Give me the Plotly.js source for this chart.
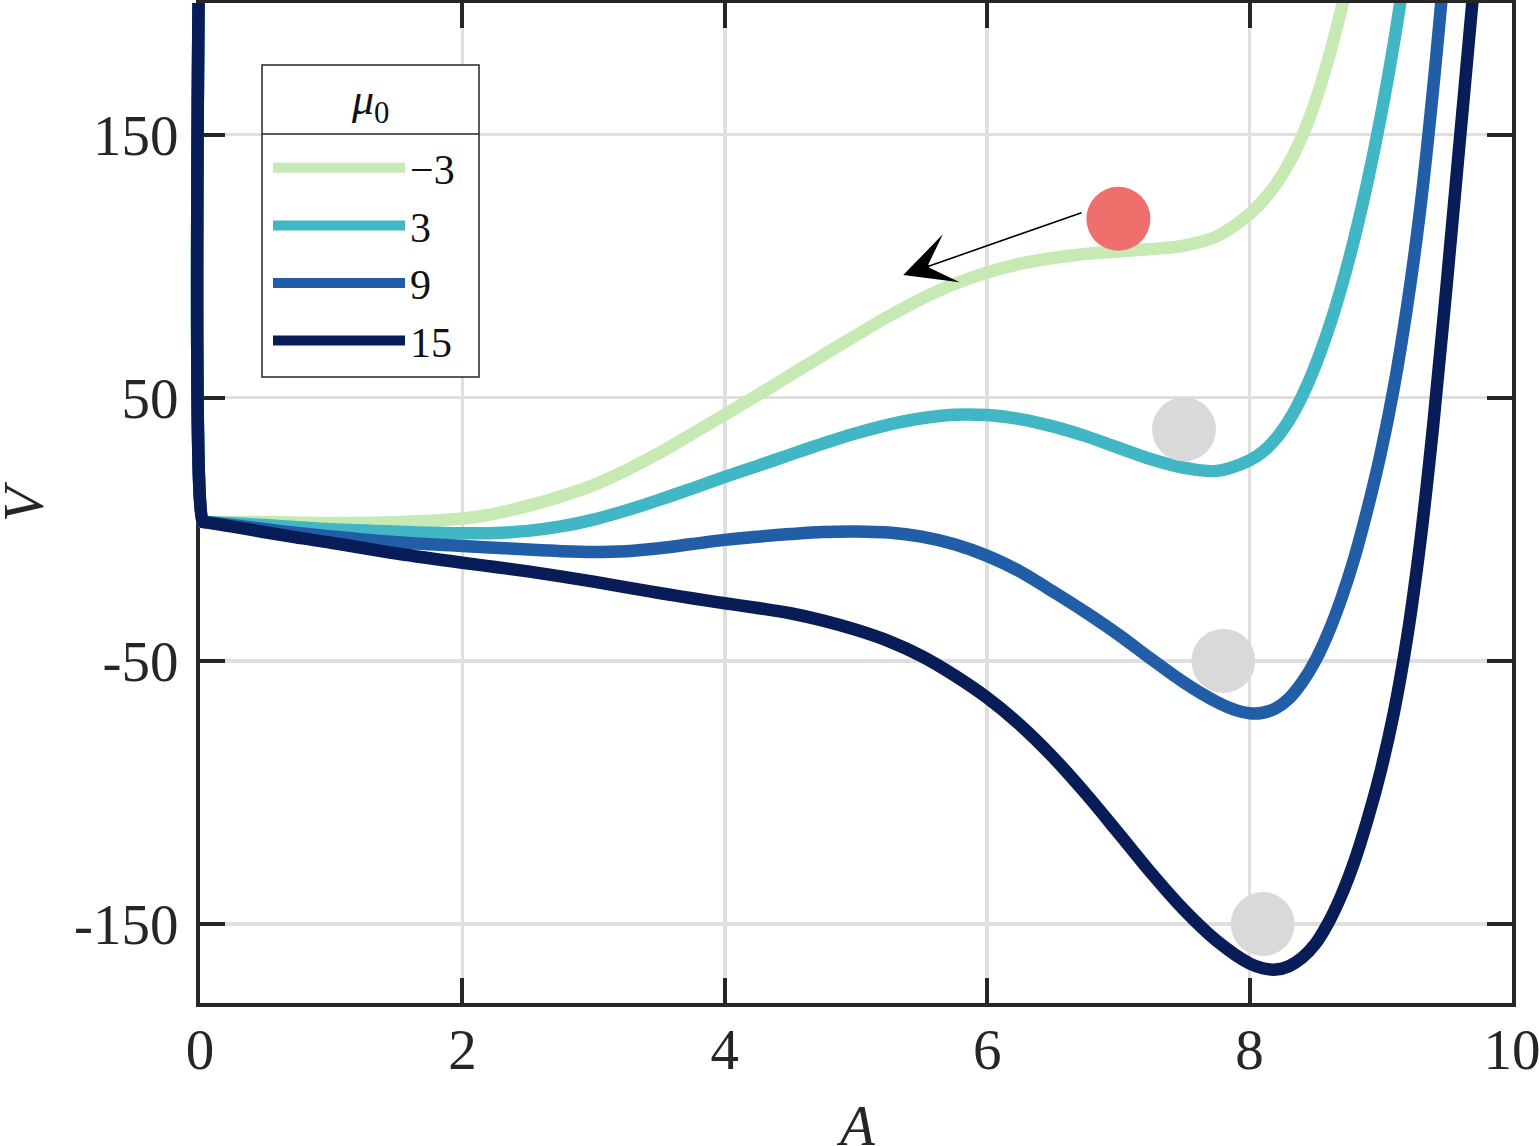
<!DOCTYPE html>
<html>
<head>
<meta charset="utf-8">
<script src="https://cdn.plot.ly/plotly-3.0.1.min.js"></script>
<style>
  html, body { margin: 0; padding: 0; background: #ffffff; }
  #chart { width: 1539px; height: 1146px; }
</style>
</head>
<body>
<div id="chart"></div>
<script>
// ---- data ----
const legendTitle = '<i>\u03bc</i><sub>0</sub>';
const xTitle = '<i>A</i>';
const yTitle = '<i>V</i>';
const muLabels = ['\u22123', '3', '9', '15'];
const lineColors = ['#c7e9b4', '#41b6c4', '#225ea8', '#081d58'];

// mu0 = -3
const A_m3 = [0, 0.02, 0.03, 0.25, 0.5, 0.72, 1.0, 1.5, 2.0, 2.25, 2.5, 2.75, 3.0, 3.25, 3.5, 3.75, 4.0, 4.25, 4.5, 4.75, 5.0, 5.25, 5.5, 5.75, 6.0, 6.25, 6.5, 6.75, 7.0, 7.25, 7.5, 7.75, 8.0, 8.1, 8.2, 8.3, 8.4, 8.5, 8.6, 8.7, 8.8];
const V_m3 = [260, 2.9, 2.8, 2.8, 2.7, 2.6, 2.4, 2.7, 4.1, 6.0, 8.9, 12.5, 16.8, 22.5, 29.0, 36.3, 43.6, 51.0, 58.6, 66.2, 73.7, 81.0, 87.6, 93.2, 97.6, 100.9, 103.1, 104.6, 105.6, 106.5, 107.8, 111.3, 119.8, 124.8, 131.1, 139.1, 149.4, 162.4, 178.7, 197.8, 218.9];

// mu0 = 3
const A_3 = [0, 0.02, 0.03, 0.25, 0.5, 0.72, 1.0, 1.5, 2.0, 2.25, 2.5, 2.75, 3.0, 3.25, 3.5, 3.75, 4.0, 4.25, 4.5, 4.75, 5.0, 5.25, 5.5, 5.75, 6.0, 6.25, 6.5, 6.75, 7.0, 7.25, 7.5, 7.75, 8.0, 8.1, 8.2, 8.3, 8.4, 8.5, 8.6, 8.7, 8.8, 8.9, 9.0, 9.1, 9.2];
const V_3 = [260, 2.9, 2.8, 2.3, 1.6, 0.9, 0.0, -0.9, -1.5, -1.4, -0.6, 1.1, 3.7, 7.2, 11.2, 15.5, 19.9, 24.1, 28.4, 32.6, 36.5, 39.8, 42.2, 43.5, 43.4, 41.9, 39.1, 35.4, 31.0, 26.6, 23.4, 22.2, 26.2, 29.4, 34.4, 41.4, 50.6, 62.1, 75.9, 92.1, 110.9, 132.4, 156.9, 184.9, 216.9];

// mu0 = 9
const A_9 = [0, 0.02, 0.03, 0.25, 0.5, 0.72, 1.0, 1.5, 2.0, 2.25, 2.5, 2.75, 3.0, 3.25, 3.5, 3.75, 4.0, 4.25, 4.5, 4.75, 5.0, 5.25, 5.5, 5.75, 6.0, 6.25, 6.5, 6.75, 7.0, 7.25, 7.5, 7.75, 7.9, 8.0, 8.1, 8.2, 8.3, 8.4, 8.5, 8.6, 8.7, 8.8, 8.9, 9.0, 9.1, 9.2, 9.3, 9.4, 9.5];
const V_9 = [260, 2.9, 2.8, 1.6, 0.0, -1.3, -2.7, -4.9, -6.3, -7.0, -7.7, -8.3, -8.6, -8.3, -7.2, -5.6, -4.0, -2.8, -1.8, -1.0, -0.8, -1.2, -2.8, -5.7, -10.1, -16.0, -23.6, -31.5, -40.0, -49.3, -58.2, -65.6, -68.8, -69.9, -69.7, -68.0, -64.3, -58.2, -50.0, -39.3, -26.2, -10.6, 8.0, 29.0, 54.0, 84.5, 121.5, 168.0, 222.0];

// mu0 = 15
const A_15 = [0, 0.02, 0.03, 0.25, 0.72, 1.0, 1.5, 2.0, 2.25, 2.5, 2.75, 3.0, 3.25, 3.5, 3.75, 4.0, 4.25, 4.5, 4.75, 5.0, 5.25, 5.5, 5.75, 6.0, 6.25, 6.5, 6.75, 7.0, 7.25, 7.5, 7.75, 8.0, 8.1, 8.2, 8.3, 8.4, 8.5, 8.6, 8.7, 8.8, 8.9, 9.0, 9.1, 9.2, 9.3, 9.4, 9.5, 9.6, 9.7, 9.78];
const V_15 = [260, 2.9, 2.8, 1.0, -3.0, -5.1, -9.2, -12.7, -14.3, -16.0, -17.9, -19.9, -22.1, -24.2, -26.2, -28.1, -29.9, -31.9, -34.7, -38.2, -42.5, -48.2, -55.5, -64.0, -74.3, -86.5, -100.4, -115.4, -130.6, -144.6, -156.4, -165.0, -166.8, -167.3, -166.0, -162.8, -157.6, -149.5, -139.0, -126.0, -110.1, -91.7, -69.5, -41.3, -5.2, 39.9, 91.8, 146.7, 201.5, 250];

// balls
const ball_A = [7.0, 7.5, 7.8, 8.1];
const ball_V = [118, 38, -50, -150];
const ballColors = ['#ef6f6c', '#d9d9d9', '#d9d9d9', '#d9d9d9'];

// arrow (tip, tail)
const arrowTip = [5.36, 96.6];
const arrowTail = [6.73, 120.5];

// axes
const xTicks = [0, 2, 4, 6, 8, 10];
const yTicks = [-150, -50, 50, 150];
const yTickText = ['-150', '-50', '50', '150'];

// ---- figure ----
const FONT = 'Liberation Serif, Times New Roman, serif';
const INK = '#262626';
const W = 1539, H = 1146;
const M = {l: 190, r: 27, t: 3, b: 143};
const paperW = W - M.l - M.r;            // 1322
const paperH = H - M.t - M.b;            // 1000
const plotLeftOffset = 10;               // px between paper left and x = 0
const pxPerUnit = (paperW - plotLeftOffset) / 10;

const xs = [A_m3, A_3, A_9, A_15];
const ys = [V_m3, V_3, V_9, V_15];

const traces = xs.map((xv, i) => ({
  type: 'scatter', mode: 'lines',
  x: xv, y: ys[i],
  name: muLabels[i],
  xaxis: 'x2', yaxis: 'y2',
  line: {color: lineColors[i], width: 12.5, shape: 'spline', smoothing: 1, simplify: false},
  hoverinfo: 'skip'
}));

traces.push({
  type: 'scatter', mode: 'markers',
  x: ball_A, y: ball_V,
  xaxis: 'x2', yaxis: 'y2',
  marker: {size: 64, color: ballColors, line: {width: 0}},
  showlegend: false, hoverinfo: 'skip'
});

const axisCommon = {
  ticks: 'inside', ticklen: 25, tickwidth: 4, tickcolor: INK,
  showline: true, linewidth: 4, linecolor: INK, mirror: 'ticks',
  showgrid: true, gridcolor: '#dfdfdf', gridwidth: 3.5,
  zeroline: false,
  tickfont: {family: FONT, size: 57, color: INK},
  ticklabeloverflow: 'allow',
  fixedrange: true, automargin: false
};

const px2paperX = p => (p - M.l) / paperW;
const px2paperY = p => (H - M.b - p) / paperH;

// legend frame (px)
const legX0 = 262, legX1 = 479, legY0 = 65, legY1 = 377, sepY = 134;

const layout = {
  width: W, height: H,
  margin: {l: M.l, r: M.r, t: M.t, b: M.b, pad: 0},
  paper_bgcolor: '#ffffff',
  plot_bgcolor: 'rgba(0,0,0,0)',
  showlegend: true,
  hovermode: false,
  xaxis: Object.assign({}, axisCommon, {
    domain: [plotLeftOffset / paperW, 1], range: [0, 10], anchor: 'y',
    tickvals: xTicks, ticktext: xTicks.map(String),
    ticklabelstandoff: -6
  }),
  yaxis: Object.assign({}, axisCommon, {
    domain: [0, 1], range: [-180, 200], anchor: 'x',
    tickvals: yTicks, ticktext: yTickText,
    ticklabelstandoff: 6
  }),
  xaxis2: {domain: [0, 1], range: [-plotLeftOffset / pxPerUnit, 10], anchor: 'y2', visible: false, fixedrange: true},
  yaxis2: {domain: [0, 1], range: [-180, 200], anchor: 'x2', visible: false, fixedrange: true},
  legend: {
    x: px2paperX(268), y: px2paperY(134), xanchor: 'left', yanchor: 'top',
    bgcolor: 'rgba(0,0,0,0)', borderwidth: 0,
    font: {family: FONT, size: 42, color: '#111111'},
    itemwidth: 132, tracegroupgap: 0
  },
  shapes: [
    {type: 'rect', xref: 'paper', yref: 'paper', layer: 'above',
     x0: px2paperX(legX0), x1: px2paperX(legX1), y0: px2paperY(legY1), y1: px2paperY(legY0),
     fillcolor: '#ffffff', line: {color: INK, width: 1.5}},
    {type: 'line', xref: 'paper', yref: 'paper', layer: 'above',
     x0: px2paperX(legX0), x1: px2paperX(legX1), y0: px2paperY(sepY), y1: px2paperY(sepY),
     line: {color: INK, width: 1.5}}
  ],
  annotations: [
    {
      xref: 'x', yref: 'y', axref: 'x', ayref: 'y',
      x: arrowTip[0], y: arrowTip[1], ax: arrowTail[0], ay: arrowTail[1],
      text: '', showarrow: true, arrowhead: 3, arrowsize: 5.3, arrowwidth: 1.6,
      arrowcolor: '#000000', standoff: 0
    },
    {
      xref: 'paper', yref: 'paper',
      x: px2paperX((legX0 + legX1) / 2), y: px2paperY(103),
      xanchor: 'center', yanchor: 'middle',
      text: legendTitle, showarrow: false,
      font: {family: FONT, size: 44, color: '#111111'}
    },
    {
      xref: 'paper', yref: 'paper',
      x: px2paperX(856), y: px2paperY(1125),
      xanchor: 'center', yanchor: 'middle',
      text: xTitle, showarrow: false,
      font: {family: FONT, size: 57, color: INK}
    },
    {
      xref: 'paper', yref: 'paper',
      x: px2paperX(23), y: px2paperY(501),
      xanchor: 'center', yanchor: 'middle', textangle: -90,
      text: yTitle, showarrow: false,
      font: {family: FONT, size: 57, color: INK}
    }
  ]
};

Plotly.newPlot('chart', traces, layout, {staticPlot: true, displayModeBar: false});
</script>
</body>
</html>
